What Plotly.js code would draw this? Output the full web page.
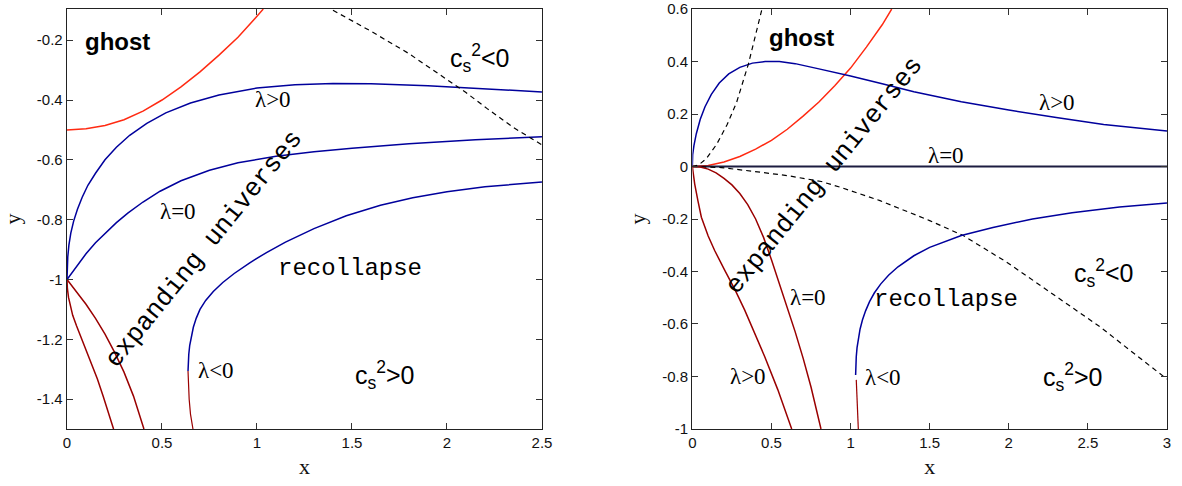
<!DOCTYPE html>
<html>
<head>
<meta charset="utf-8">
<script src="https://cdn.plot.ly/plotly-3.0.1.min.js"></script>
<style>html,body{margin:0;padding:0;background:#fff;}#chart{width:1182px;height:486px;}</style>
</head>
<body>
<div id="chart"></div>
<script>
// ---------- Left panel data ----------
const leftGhostX = [0,0.1,0.2,0.3,0.4,0.5,0.6,0.7,0.8,0.9,1.0,1.033];
const leftGhostY = [-0.5,-0.496,-0.485,-0.466,-0.437,-0.4,-0.356,-0.306,-0.25,-0.19,-0.12,-0.096];

const leftPosX = [0,0.001,0.004,0.01,0.02,0.035,0.055,0.08,0.11,0.15,0.2,0.26,0.33,0.42,0.52,0.65,0.8,1.0,1.2,1.4,1.6,1.9,2.2,2.5];
const leftPosY = [-1,-0.96,-0.925,-0.885,-0.845,-0.805,-0.765,-0.725,-0.685,-0.645,-0.6,-0.558,-0.518,-0.478,-0.443,-0.41,-0.383,-0.36,-0.349,-0.345,-0.346,-0.352,-0.362,-0.373];

const leftZeroX = [0,0.05,0.1,0.15,0.2,0.26,0.32,0.4,0.49,0.6,0.75,0.9,1.1,1.3,1.5,1.8,2.15,2.5];
const leftZeroY = [-1,-0.955,-0.914,-0.877,-0.845,-0.81,-0.778,-0.741,-0.705,-0.67,-0.635,-0.61,-0.588,-0.573,-0.561,-0.546,-0.533,-0.523];

const leftNegBlueX = [0.637,0.638,0.641,0.646,0.654,0.665,0.68,0.7,0.73,0.77,0.82,0.88,0.96,1.05,1.15,1.3,1.47,1.65,1.82,2.0,2.2,2.5];
const leftNegBlueY = [-1.306,-1.28,-1.25,-1.22,-1.19,-1.16,-1.13,-1.1,-1.07,-1.04,-1.01,-0.98,-0.945,-0.91,-0.875,-0.83,-0.787,-0.752,-0.727,-0.707,-0.69,-0.674];
const leftNegRedX = [0.637,0.639,0.643,0.65,0.663];
const leftNegRedY = [-1.306,-1.35,-1.4,-1.45,-1.5];

const leftOuterRedX = [0,0.002,0.008,0.018,0.03,0.05,0.075,0.1,0.13,0.16,0.19,0.22,0.245];
const leftOuterRedY = [-1,-1.03,-1.06,-1.09,-1.12,-1.155,-1.195,-1.235,-1.283,-1.333,-1.39,-1.447,-1.5];
const leftInnerRedX = [0,0.05,0.1,0.15,0.2,0.25,0.3,0.35,0.405];
const leftInnerRedY = [-1,-1.04,-1.083,-1.13,-1.183,-1.243,-1.31,-1.39,-1.5];

const leftDashX = [1.40,1.6,1.8,1.965,2.1,2.21,2.35,2.5];
const leftDashY = [-0.1,-0.17,-0.245,-0.315,-0.375,-0.428,-0.492,-0.55];

const leftYTickVals = [-1.4,-1.2,-1,-0.8,-0.6,-0.4,-0.2];
const leftYTickText = ['-1.4','-1.2','-1','-0.8','-0.6','-0.4','-0.2'];
const leftXTickVals = [0,0.5,1,1.5,2,2.5];
const leftXTickText = ['0','0.5','1','1.5','2','2.5'];

// ---------- Right panel data ----------
const rightPosX = [0,0.002,0.01,0.025,0.05,0.08,0.12,0.17,0.23,0.3,0.38,0.46,0.55,0.65,0.8,1.0,1.2,1.4,1.7,2.0,2.3,2.6,3.0];
const rightPosY = [0,0.045,0.08,0.125,0.18,0.228,0.275,0.318,0.353,0.378,0.394,0.4,0.4,0.392,0.372,0.345,0.315,0.285,0.247,0.215,0.187,0.16,0.135];

const rightGhostX = [0,0.1,0.2,0.3,0.4,0.5,0.6,0.7,0.8,0.9,1.0,1.1,1.2,1.26];
const rightGhostY = [0,0.004,0.017,0.038,0.066,0.1,0.142,0.192,0.246,0.308,0.375,0.455,0.54,0.6];

const rightZeroX = [0,3];
const rightZeroY = [0,0];

const rightDashUpX = [0,0.04,0.088,0.154,0.22,0.28,0.354,0.44];
const rightDashUpY = [0,0.006,0.03,0.085,0.16,0.245,0.39,0.6];
const rightDashLowX = [0,0.183,0.394,0.605,0.815,0.94,1.186,1.5,1.712,1.986,2.154,2.575,2.91,3];
const rightDashLowY = [0,-0.004,-0.019,-0.035,-0.057,-0.08,-0.13,-0.206,-0.263,-0.364,-0.434,-0.61,-0.768,-0.81];

const rightNegBlueX = [1.032,1.033,1.036,1.041,1.049,1.06,1.075,1.095,1.12,1.15,1.19,1.24,1.3,1.4,1.5,1.7,1.9,2.15,2.4,2.7,3.0];
const rightNegBlueY = [-0.794,-0.76,-0.725,-0.69,-0.655,-0.62,-0.585,-0.55,-0.515,-0.482,-0.448,-0.414,-0.382,-0.34,-0.308,-0.263,-0.232,-0.2,-0.176,-0.154,-0.139];
const rightNegRedX = [1.036,1.039,1.043,1.049];
const rightNegRedY = [-0.813,-0.87,-0.93,-1.0];

const rightOuterRedX = [0,0.005,0.015,0.035,0.057,0.1,0.141,0.205,0.27,0.331,0.39,0.457,0.54,0.628];
const rightOuterRedY = [0,-0.03,-0.067,-0.13,-0.193,-0.265,-0.32,-0.396,-0.47,-0.547,-0.63,-0.724,-0.85,-1.0];
const rightInnerRedX = [0,0.05,0.1,0.15,0.2,0.25,0.3,0.35,0.4,0.45,0.5,0.55,0.6,0.65,0.7,0.75,0.813];
const rightInnerRedY = [0,-0.002,-0.01,-0.024,-0.045,-0.07,-0.103,-0.145,-0.2,-0.27,-0.355,-0.445,-0.535,-0.63,-0.73,-0.84,-1.0];

const rightYTickVals = [-1,-0.8,-0.6,-0.4,-0.2,0,0.2,0.4,0.6];
const rightYTickText = ['-1','-0.8','-0.6','-0.4','-0.2','0','0.2','0.4','0.6'];
const rightXTickVals = [0,0.5,1,1.5,2,2.5,3];
const rightXTickText = ['0','0.5','1','1.5','2','2.5','3'];

// ---------- styles ----------
const BLUE = '#00009c', RED = '#ff2a12', DRED = '#9a0000', BLACK = '#000000';
const serif = '"Liberation Serif", "DejaVu Serif", serif';
const sans = '"Liberation Sans", Arial, sans-serif';
const mono = '"Liberation Mono", "Courier New", monospace';
const narrowBold = '"Liberation Sans Narrow", "Liberation Sans", sans-serif';

function line(x, y, color, xa, ya, opts) {
  opts = opts || {};
  return {
    type: 'scatter', mode: 'lines', x: x, y: y, xaxis: xa, yaxis: ya,
    line: {color: color, width: opts.width || 1.5, dash: opts.dash || 'solid', shape: 'linear'},
    hoverinfo: 'skip', showlegend: false
  };
}

const traces = [
  line(leftGhostX, leftGhostY, RED, 'x', 'y'),
  line(leftPosX, leftPosY, BLUE, 'x', 'y'),
  line(leftZeroX, leftZeroY, BLUE, 'x', 'y'),
  line(leftNegBlueX, leftNegBlueY, BLUE, 'x', 'y'),
  line(leftNegRedX, leftNegRedY, DRED, 'x', 'y', {width: 1.2}),
  line(leftOuterRedX, leftOuterRedY, DRED, 'x', 'y'),
  line(leftInnerRedX, leftInnerRedY, DRED, 'x', 'y'),
  line(leftDashX, leftDashY, BLACK, 'x', 'y', {width: 1.2, dash: '5px,4px'}),

  line(rightGhostX, rightGhostY, RED, 'x2', 'y2'),
  line(rightPosX, rightPosY, BLUE, 'x2', 'y2'),
  line(rightZeroX, rightZeroY, '#1c1c40', 'x2', 'y2', {width: 1.8}),
  line(rightDashUpX, rightDashUpY, BLACK, 'x2', 'y2', {width: 1.2, dash: '5px,4px'}),
  line(rightDashLowX, rightDashLowY, BLACK, 'x2', 'y2', {width: 1.2, dash: '5px,4px'}),
  line(rightNegBlueX, rightNegBlueY, BLUE, 'x2', 'y2'),
  line(rightNegRedX, rightNegRedY, DRED, 'x2', 'y2', {width: 1.2}),
  line(rightOuterRedX, rightOuterRedY, DRED, 'x2', 'y2'),
  line(rightInnerRedX, rightInnerRedY, DRED, 'x2', 'y2')
];

function axisBase() {
  return {
    showgrid: false, zeroline: false, showline: true, linecolor: '#222', linewidth: 1.3,
    mirror: 'ticks', ticks: 'inside', ticklen: 6, tickwidth: 1, tickcolor: '#333',
    tickfont: {family: sans, size: 15, color: '#111'}, fixedrange: true,
    ticklabeloverflow: 'allow'
  };
}

const layout = {
  width: 1182, height: 486,
  margin: {l: 67, r: 15, t: 9, b: 57},
  paper_bgcolor: '#ffffff', plot_bgcolor: '#ffffff',
  xaxis: Object.assign(axisBase(), {domain: [0, 0.4318], range: [0, 2.5001], anchor: 'y',
    tickmode: 'array', tickvals: leftXTickVals, ticktext: leftXTickText,
    title: {text: 'x', font: {family: serif, size: 22, color: '#111'}, standoff: 8}}),
  yaxis: Object.assign(axisBase(), {domain: [0, 1], range: [-1.5, -0.0957], anchor: 'x',
    tickmode: 'array', tickvals: leftYTickVals, ticktext: leftYTickText,
    title: {text: 'y', font: {family: serif, size: 22, color: '#111'}, standoff: 10}}),
  xaxis2: Object.assign(axisBase(), {domain: [0.5685, 1], range: [0, 3.0001], anchor: 'y2',
    tickmode: 'array', tickvals: rightXTickVals, ticktext: rightXTickText,
    title: {text: 'x', font: {family: serif, size: 22, color: '#111'}, standoff: 8}}),
  yaxis2: Object.assign(axisBase(), {domain: [0, 1], range: [-1.0001, 0.6002], anchor: 'x2',
    tickmode: 'array', tickvals: rightYTickVals, ticktext: rightYTickText,
    title: {text: 'y', font: {family: serif, size: 22, color: '#111'}, standoff: 10}}),
  annotations: []
};

function ann(xref, yref, x, y, text, font, angle) {
  return {xref: xref, yref: yref, x: x, y: y, text: text, showarrow: false,
    font: font, textangle: angle || 0, xanchor: 'center', yanchor: 'middle'};
}
const fGhost = {family: narrowBold, size: 24, color: '#000', weight: 'bold'};
const fLam = {family: serif, size: 23, color: '#000'};
const fMono = {family: mono, size: 24, color: '#000'};
const fExp = {family: mono, size: 26, color: '#000'};
const fCs = {family: sans, size: 25, color: '#000'};

layout.annotations.push(
  ann('x', 'y', 0.265, -0.206, '<b>ghost</b>', fGhost),
  ann('x', 'y', 1.086, -0.399, 'λ&gt;0', fLam),
  ann('x', 'y', 0.586, -0.772, 'λ=0', fLam),
  ann('x', 'y', 0.786, -1.306, 'λ&lt;0', fLam),
  ann('x', 'y', 1.491, -0.962, 'recollapse', fMono),
  ann('x', 'y', 1.675, -1.319, 'c<sub>s</sub><sup>2</sup>&gt;0', fCs),
  ann('x', 'y', 2.175, -0.259, 'c<sub>s</sub><sup>2</sup>&lt;0', fCs),
  ann('x', 'y', 0.723, -0.899, 'expanding universes', fExp, -51),

  ann('x2', 'y2', 0.693, 0.492, '<b>ghost</b>', fGhost),
  ann('x2', 'y2', 2.304, 0.245, 'λ&gt;0', fLam),
  ann('x2', 'y2', 1.603, 0.041, 'λ=0', fLam),
  ann('x2', 'y2', 0.731, -0.498, 'λ=0', fLam),
  ann('x2', 'y2', 0.352, -0.801, 'λ&gt;0', fLam),
  ann('x2', 'y2', 1.205, -0.805, 'λ&lt;0', fLam),
  ann('x2', 'y2', 1.603, -0.505, 'recollapse', fMono),
  ann('x2', 'y2', 2.601, -0.407, 'c<sub>s</sub><sup>2</sup>&lt;0', fCs),
  ann('x2', 'y2', 2.405, -0.801, 'c<sub>s</sub><sup>2</sup>&gt;0', fCs),
  ann('x2', 'y2', 0.832, -0.035, 'expanding universes', fExp, -51)
);

Plotly.newPlot('chart', traces, layout, {staticPlot: true, displayModeBar: false});
</script>
</body>
</html>
